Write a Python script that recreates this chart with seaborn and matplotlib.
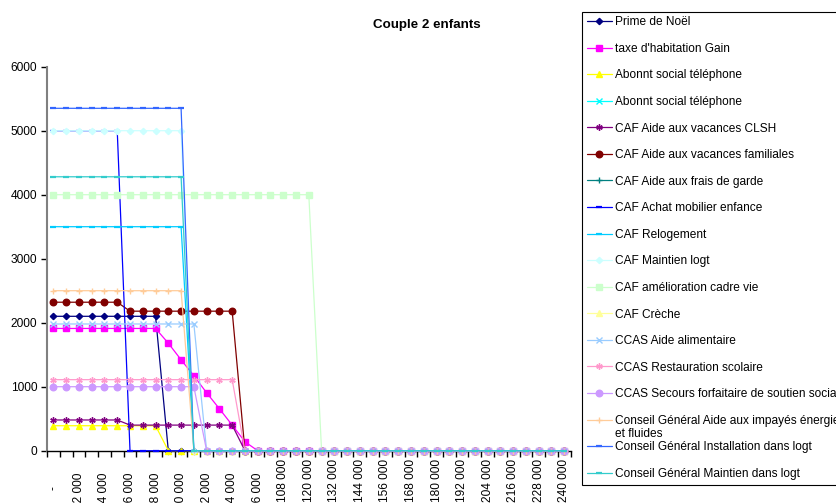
import matplotlib
matplotlib.use("Agg")
import numpy as np
import pandas as pd
import matplotlib.pyplot as plt
from matplotlib.lines import Line2D
from matplotlib.transforms import offset_copy
import seaborn as sns

sns.set_theme(style="white")
plt.rcParams["font.family"] = ["Liberation Sans", "DejaVu Sans"]
plt.rcParams["text.color"] = "black"
plt.rcParams["xtick.color"] = "black"
plt.rcParams["ytick.color"] = "black"

# revenus (catégories, pas de 6 000)
revenus = list(range(0, 246000, 6000))

# valeurs (41 points par série, [] = rien de visible)
prime_noel = [2100, 2100, 2100, 2100, 2100, 2100, 2100, 2100, 2100, 0,
              0, 0, 0, 0, 0, 0, 0, 0, 0, 0,
              0, 0, 0, 0, 0, 0, 0, 0, 0, 0,
              0, 0, 0, 0, 0, 0, 0, 0, 0, 0,
              0]
taxe_habitation = [1910, 1910, 1910, 1910, 1910, 1910, 1910, 1910, 1910, 1680,
                   1420, 1170, 905, 655, 400, 140, 0, 0, 0, 0,
                   0, 0, 0, 0, 0, 0, 0, 0, 0, 0,
                   0, 0, 0, 0, 0, 0, 0, 0, 0, 0,
                   0]
abonnt_tel = [390, 390, 390, 390, 390, 390, 390, 390, 390, 0,
              0, 0, 0, 0, 0, 0, 0, 0, 0, 0,
              0, 0, 0, 0, 0, 0, 0, 0, 0, 0,
              0, 0, 0, 0, 0, 0, 0, 0, 0, 0,
              0]
abonnt_tel_bis = []
caf_clsh = [480, 480, 480, 480, 480, 480, 400, 400, 400, 400,
            400, 400, 400, 400, 400, 0, 0, 0, 0, 0,
            0, 0, 0, 0, 0, 0, 0, 0, 0, 0,
            0, 0, 0, 0, 0, 0, 0, 0, 0, 0,
            0]
caf_vac_fam = [2320, 2320, 2320, 2320, 2320, 2320, 2180, 2180, 2180, 2180,
               2180, 2180, 2180, 2180, 2180, 0, 0, 0, 0, 0,
               0, 0, 0, 0, 0, 0, 0, 0, 0, 0,
               0, 0, 0, 0, 0, 0, 0, 0, 0, 0,
               0]
caf_frais_garde = []
caf_mobilier = [5000, 5000, 5000, 5000, 5000, 5000, 0, 0, 0, 0,
                0, 0, 0, 0, 0, 0, 0, 0, 0, 0,
                0, 0, 0, 0, 0, 0, 0, 0, 0, 0,
                0, 0, 0, 0, 0, 0, 0, 0, 0, 0,
                0]
caf_relogement = [3500, 3500, 3500, 3500, 3500, 3500, 3500, 3500, 3500, 3500,
                  3500, 0, 0, 0, 0, 0, 0, 0, 0, 0,
                  0, 0, 0, 0, 0, 0, 0, 0, 0, 0,
                  0, 0, 0, 0, 0, 0, 0, 0, 0, 0,
                  0]
caf_maintien = [5000, 5000, 5000, 5000, 5000, 5000, 5000, 5000, 5000, 5000,
                5000, 0, 0, 0, 0, 0, 0, 0, 0, 0,
                0, 0, 0, 0, 0, 0, 0, 0, 0, 0,
                0, 0, 0, 0, 0, 0, 0, 0, 0, 0,
                0]
caf_amelioration = [4000, 4000, 4000, 4000, 4000, 4000, 4000, 4000, 4000, 4000,
                    4000, 4000, 4000, 4000, 4000, 4000, 4000, 4000, 4000, 4000,
                    4000, 0, 0, 0, 0, 0, 0, 0, 0, 0,
                    0, 0, 0, 0, 0, 0, 0, 0, 0, 0,
                    0]
caf_creche = []
ccas_alimentaire = [1980, 1980, 1980, 1980, 1980, 1980, 1980, 1980, 1980, 1980,
                    1980, 1980, 0, 0, 0, 0, 0, 0, 0, 0,
                    0, 0, 0, 0, 0, 0, 0, 0, 0, 0,
                    0, 0, 0, 0, 0, 0, 0, 0, 0, 0,
                    0]
ccas_restauration = [1110, 1110, 1110, 1110, 1110, 1110, 1110, 1110, 1110, 1110,
                     1110, 1110, 1110, 1110, 1110, 0, 0, 0, 0, 0,
                     0, 0, 0, 0, 0, 0, 0, 0, 0, 0,
                     0, 0, 0, 0, 0, 0, 0, 0, 0, 0,
                     0]
ccas_secours = [1000, 1000, 1000, 1000, 1000, 1000, 1000, 1000, 1000, 1000,
                1000, 1000, 0, 0, 0, 0, 0, 0, 0, 0,
                0, 0, 0, 0, 0, 0, 0, 0, 0, 0,
                0, 0, 0, 0, 0, 0, 0, 0, 0, 0,
                0]
cg_impayes = [2500, 2500, 2500, 2500, 2500, 2500, 2500, 2500, 2500, 2500,
              2500, 0, 0, 0, 0, 0, 0, 0, 0, 0,
              0, 0, 0, 0, 0, 0, 0, 0, 0, 0,
              0, 0, 0, 0, 0, 0, 0, 0, 0, 0,
              0]
cg_installation = [5350, 5350, 5350, 5350, 5350, 5350, 5350, 5350, 5350, 5350,
                   5350, 0, 0, 0, 0, 0, 0, 0, 0, 0,
                   0, 0, 0, 0, 0, 0, 0, 0, 0, 0,
                   0, 0, 0, 0, 0, 0, 0, 0, 0, 0,
                   0]
cg_maintien = [4280, 4280, 4280, 4280, 4280, 4280, 4280, 4280, 4280, 4280,
               4280, 0, 0, 0, 0, 0, 0, 0, 0, 0,
               0, 0, 0, 0, 0, 0, 0, 0, 0, 0,
               0, 0, 0, 0, 0, 0, 0, 0, 0, 0,
               0]

star = (6, 2, 0)
# (label, valeurs, couleur, marqueur, taille)
series = [
    ("Prime de Noël", prime_noel, "#000080", "D", 3.2),
    ("taxe d'habitation Gain", taxe_habitation, "#FF00FF", "s", 4.3),
    ("Abonnt social téléphone", abonnt_tel, "#FFFF00", "^", 4.4),
    ("Abonnt social téléphone", abonnt_tel_bis, "#00FFFF", "x", 4.0),
    ("CAF Aide aux vacances CLSH", caf_clsh, "#800080", star, 4.6),
    ("CAF Aide aux vacances familiales", caf_vac_fam, "#800000", "o", 4.7),
    ("CAF Aide aux frais de garde", caf_frais_garde, "#008080", "+", 4.4),
    ("CAF Achat mobilier enfance", caf_mobilier, "#0000FF", "_", 4.3),
    ("CAF Relogement", caf_relogement, "#00CCFF", "_", 4.3),
    ("CAF Maintien logt", caf_maintien, "#CCFFFF", "D", 3.2),
    ("CAF amélioration cadre vie", caf_amelioration, "#CCFFCC", "s", 4.3),
    ("CAF Crèche", caf_creche, "#FFFF99", "^", 4.4),
    ("CCAS Aide alimentaire", ccas_alimentaire, "#99CCFF", "x", 4.0),
    ("CCAS Restauration scolaire", ccas_restauration, "#FF99CC", star, 4.6),
    ("CCAS Secours forfaitaire de soutien social", ccas_secours, "#CC99FF", "o", 4.7),
    ("Conseil Général Aide aux impayés énergie", cg_impayes, "#FFCC99", "+", 4.4),
    ("Conseil Général Installation dans logt", cg_installation, "#3366FF", "_", 4.3),
    ("Conseil Général Maintien dans logt", cg_maintien, "#33CCCC", "_", 4.3),
]
suite_label = "et fluides"

fig = plt.figure(figsize=(8.36, 5.03), dpi=100)
ax = fig.add_axes([47 / 836, 52.3 / 503, 523.6 / 836, 384 / 503])

handles = []
for label, vals, color, marker, ms in series:
    mew = 1.6 if marker == "_" else 1.0
    if vals:
        df = pd.DataFrame({"revenu": revenus, "montant": vals})
        sns.lineplot(data=df, x="revenu", y="montant", ax=ax, color=color,
                     marker=marker, markersize=ms, mec=color, mfc=color, mew=mew,
                     lw=0.9, estimator=None, legend=False, clip_on=False, zorder=3)
    handles.append(Line2D([], [], color=color, marker=marker, markersize=ms,
                          markeredgecolor=color, markerfacecolor=color,
                          markeredgewidth=mew, lw=0.9))

step = revenus[1] - revenus[0]
ax.set_xlim(revenus[0] - step / 2, revenus[-1] + step / 2)
ax.set_ylim(0, 6000)
ax.set_xticks([r - step / 2 for r in revenus] + [revenus[-1] + step / 2])
ax.set_yticks(range(0, 7000, 1000))
ax.set_xlabel("")
ax.set_ylabel("")
ax.tick_params(axis="x", bottom=True, direction="out", length=4, width=1,
               color="black", labelbottom=False)
ax.tick_params(axis="y", left=True, direction="out", length=4, width=1,
               color="black", labelcolor="black", labelsize=8.6, pad=3)
for s in ["top", "right"]:
    ax.spines[s].set_visible(False)
ax.spines["left"].set_color("#808080")
ax.spines["left"].set_linewidth(1.5)
ax.spines["bottom"].set_color("black")
ax.spines["bottom"].set_linewidth(1.0)
ax.grid(False)

# étiquettes de l'axe x (une sur deux, verticales)
for r in revenus[::2]:
    txt = "-" if r == 0 else f"{r:,}".replace(",", " ")
    if txt == "-":
        off, va = 37, "center"
    elif len(txt) > 6:
        off, va = 8, "top"
    else:
        off, va = 22, "top"
    tr = offset_copy(ax.get_xaxis_transform(), fig=fig, x=0, y=-off, units="dots")
    ax.text(r, 0, txt, transform=tr, rotation=90, ha="center", va=va,
            fontsize=8.6, color="black", clip_on=False)

fig.text(427 / 836, 1 - 25 / 503, "Couple 2 enfants", ha="center", va="center",
         fontsize=9.6, fontweight="bold", color="black")

leg = fig.legend(handles, [s[0] for s in series], loc="upper left",
                 bbox_to_anchor=(582 / 836, 1 - 11.7 / 503), borderaxespad=0,
                 frameon=True, fancybox=False, edgecolor="black", framealpha=1,
                 fontsize=8.6, handlelength=2.1, handletextpad=0.3,
                 borderpad=0.38, labelspacing=1.22)
leg.get_frame().set_linewidth(0.8)
for t in leg.get_texts():
    t.set_color("black")

# deuxième ligne du libellé "Conseil Général Aide aux impayés énergie"
fig.canvas.draw()
t = leg.get_texts()[15]
bb = t.get_window_extent()
fig.text(bb.x0 / fig.bbox.width, (bb.y0 + bb.y1) / 2 / fig.bbox.height - 13 / 503,
         suite_label, ha="left", va="center", fontsize=8.6, color="black",
         zorder=10)

fig.savefig("out.png", dpi=100)
